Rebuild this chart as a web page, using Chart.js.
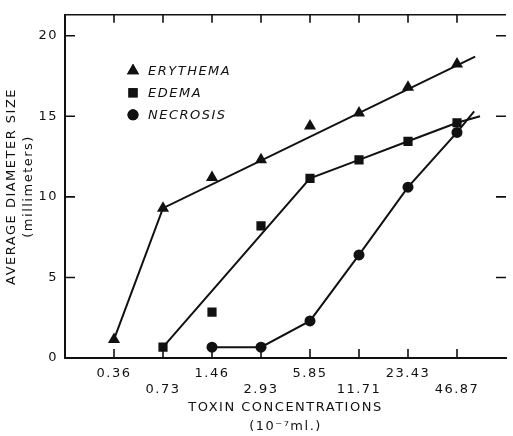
<!DOCTYPE html>
<html>
<head>
<meta charset="utf-8">
<script src="https://cdn.jsdelivr.net/npm/chart.js@4.4.1/dist/chart.umd.min.js"></script>
<style>
  html, body { margin: 0; padding: 0; background: #fff; }
  #wrap { width: 513px; height: 436px; }
</style>
</head>
<body>
<div id="wrap"><canvas id="myChart"></canvas></div>
<script>
// toxin concentrations (10^-7 ml), one category per column
const concLabels = ["0.36", "0.73", "1.46", "2.93", "5.85", "11.71", "23.43", "46.87"];
const yTickValues = [0, 5, 10, 15, 20];

// measured average diameter (mm); null = not plotted
const erythema = [1.15, 9.3, 11.2, 12.3, 14.4, 15.2, 16.8, 18.25];
const edema = [null, 0.67, 2.85, 8.2, 11.15, 12.3, 13.45, 14.6];
const necrosis = [null, null, 0.67, 0.67, 2.3, 6.4, 10.6, 14.0];

// hand-drawn curves (x = category index)
const erythemaLineX = [0, 1, 7.37];
const erythemaLineY = [1.15, 9.3, 18.7];
const edemaLineX = [1, 4, 5, 6, 7, 7.47];
const edemaLineY = [0.67, 11.15, 12.3, 13.45, 14.6, 15.0];
const necrosisLineX = [2, 3, 4, 5, 6, 7, 7.35];
const necrosisLineY = [0.67, 0.67, 2.3, 6.4, 10.6, 14.0, 15.3];

const seriesNames = ["ERYTHEMA", "EDEMA", "NECROSIS"];

const FONT = "'DejaVu Sans', 'Liberation Sans', sans-serif";
const INK = "#111";

function toPoints(vals) {
  return vals.map((v, i) => ({ x: i, y: v })).filter(p => p.y !== null);
}
function toLine(xs, ys) {
  return xs.map((x, i) => ({ x: x, y: ys[i] }));
}

const markerSet = (label, vals, style, r) => ({
  label: label,
  data: toPoints(vals),
  pointStyle: style,
  pointRadius: r,
  pointHoverRadius: r,
  backgroundColor: INK,
  borderColor: INK,
  borderWidth: 0,
  showLine: false,
  order: 0,
});
const lineSet = (xs, ys) => ({
  label: "",
  data: toLine(xs, ys),
  showLine: true,
  pointRadius: 0,
  borderColor: INK,
  borderWidth: 2,
  fill: false,
  order: 1,
});

// frame: top line, inward ticks on all four sides
const framePlugin = {
  id: "frame",
  beforeDatasetsDraw(chart) {
    const { ctx, chartArea: a, scales } = chart;
    ctx.save();
    ctx.strokeStyle = INK;
    ctx.lineWidth = 1.6;
    ctx.beginPath();
    ctx.moveTo(a.left, a.top);
    ctx.lineTo(a.right, a.top);
    concLabels.forEach((_, i) => {
      const x = scales.x.getPixelForValue(i);
      ctx.moveTo(x, a.bottom);
      ctx.lineTo(x, a.bottom - 9);
      ctx.moveTo(x, a.top);
      ctx.lineTo(x, a.top + 8);
    });
    yTickValues.filter(v => v > 0).forEach(v => {
      const y = scales.y.getPixelForValue(v);
      ctx.moveTo(a.left, y);
      ctx.lineTo(a.left + 10, y);
      ctx.moveTo(a.right, y);
      ctx.lineTo(a.right - 10, y);
    });
    ctx.stroke();
    ctx.restore();
  },
};

// legend inside the plot, top left
const legendPlugin = {
  id: "insideLegend",
  afterDraw(chart) {
    const { ctx, chartArea: a } = chart;
    ctx.save();
    ctx.letterSpacing = "1.5px";
    ctx.font = "italic 13px " + FONT;
    ctx.textBaseline = "middle";
    ctx.textAlign = "left";
    seriesNames.forEach((name, i) => {
      const ds = chart.data.datasets[i];
      const x = a.left + 68;
      const y = a.top + 56 + i * 22;
      ctx.fillStyle = INK;
      ctx.strokeStyle = INK;
      Chart.helpers.drawPoint(ctx, {
        pointStyle: ds.pointStyle,
        radius: ds.pointRadius,
        rotation: 0,
        borderWidth: 0,
      }, x, y);
      ctx.fill();
      ctx.fillText(name, x + 15, y + 1);
    });
    ctx.restore();
  },
};

// wider lettering like the original
const spacingPlugin = {
  id: "spacing",
  beforeUpdate(chart) { chart.ctx.letterSpacing = "1.5px"; },
  beforeDraw(chart) { chart.ctx.letterSpacing = "1.5px"; },
};

const ctx = document.getElementById("myChart").getContext("2d");
new Chart(ctx, {
  type: "scatter",
  data: {
    datasets: [
      markerSet(seriesNames[0], erythema, "triangle", 7),
      markerSet(seriesNames[1], edema, "rect", 6.5),
      markerSet(seriesNames[2], necrosis, "circle", 5.5),
      lineSet(erythemaLineX, erythemaLineY),
      lineSet(edemaLineX, edemaLineY),
      lineSet(necrosisLineX, necrosisLineY),
    ],
  },
  options: {
    responsive: true,
    maintainAspectRatio: false,
    animation: false,
    layout: { padding: { top: 7, right: 0, bottom: 0, left: 0 } },
    plugins: {
      legend: { display: false },
      tooltip: { enabled: false },
    },
    scales: {
      x: {
        type: "linear",
        min: -1,
        max: 8,
        grid: { display: false, drawTicks: false },
        border: { display: true, color: INK, width: 2 },
        afterBuildTicks: s => { s.ticks = concLabels.map((_, i) => ({ value: i })); },
        afterFit: s => { s.height = 78; },
        ticks: {
          color: INK,
          padding: 8,
          maxRotation: 0,
          autoSkip: false,
          font: { family: FONT, size: 13, lineHeight: 1.2 },
          callback: v => (v % 2 === 0 ? [concLabels[v], ""] : ["", concLabels[v]]),
        },
        title: {
          display: true,
          text: ["TOXIN CONCENTRATIONS", "(10\u207B\u2077ml.)"],
          color: INK,
          font: { family: FONT, size: 13, lineHeight: 1.45 },
          padding: { top: 0, bottom: 0 },
        },
      },
      y: {
        min: 0,
        max: 21.3,
        grid: { display: false, drawTicks: false },
        border: { display: true, color: INK, width: 2 },
        afterBuildTicks: s => { s.ticks = yTickValues.map(v => ({ value: v })); },
        afterFit: s => { s.width = 65; },
        ticks: {
          color: INK,
          padding: 7,
          font: { family: FONT, size: 13 },
        },
        title: {
          display: true,
          text: ["AVERAGE DIAMETER SIZE", "(millimeters)"],
          color: INK,
          font: { family: FONT, size: 13, lineHeight: 1.3 },
          padding: { top: 3, bottom: 0 },
        },
      },
    },
  },
  plugins: [spacingPlugin, framePlugin, legendPlugin],
});
</script>
</body>
</html>
